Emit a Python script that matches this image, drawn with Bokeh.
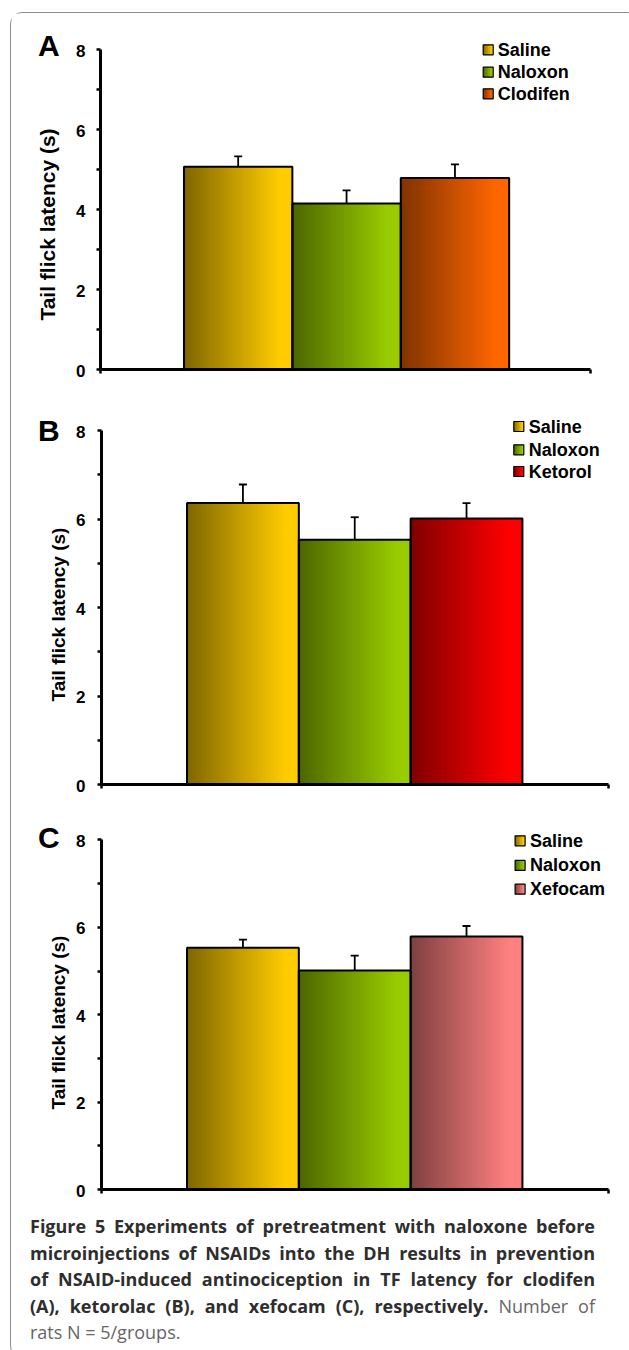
import numpy as np
from bokeh.plotting import figure
from bokeh.models import Range1d, FixedTicker, Div, ColumnDataSource, CustomJSTickFormatter
from bokeh.layouts import column
from bokeh.core.properties import value
from bokeh.embed import file_html
from bokeh.resources import INLINE

# ---------------- data ----------------
groups_a = ["Saline", "Naloxon", "Clodifen"]
latency_a = [5.07, 4.15, 4.79]
sem_a = [0.26, 0.33, 0.34]

groups_b = ["Saline", "Naloxon", "Ketorol"]
latency_b = [6.36, 5.53, 6.01]
sem_b = [0.42, 0.51, 0.35]

groups_c = ["Saline", "Naloxon", "Xefocam"]
latency_c = [5.53, 5.01, 5.79]
sem_c = [0.19, 0.34, 0.24]

y_ticks = [0, 2, 4, 6, 8]
y_minor_ticks = [1, 3, 5, 7]
panel_letters = ["A", "B", "C"]
y_title = "Tail flick latency (s)"

caption_bold = [
    "Figure 5 Experiments of pretreatment with naloxone before",
    "microinjections of NSAIDs into the DH results in prevention",
    "of NSAID-induced antinociception in TF latency for clodifen",
    "(A), ketorolac (B), and xefocam (C), respectively.",
]
caption_plain = ["Number of", "rats N = 5/groups."]

# ---------------- style ----------------
GRAD = {
    "Saline": ((127, 102, 0), (255, 204, 0)),
    "Naloxon": ((76, 102, 0), (153, 204, 0)),
    "Clodifen": ((127, 51, 0), (255, 102, 0)),
    "Ketorol": ((127, 0, 0), (255, 0, 0)),
    "Xefocam": ((127, 64, 64), (255, 128, 128)),
}
FONT = "Liberation Sans"
FIG_W = 617
OX = 11      # page x of layout content
ML = 12      # left border of every figure
MB = 6       # bottom border of every figure


def grad_color(name, t):
    a, b = GRAD[name]
    t = min(t / 0.88, 1.0)
    r, g, bl = [int(round(a[k] + (b[k] - a[k]) * t)) for k in range(3)]
    return "#%02x%02x%02x" % (r, g, bl)


GEOM = [
    dict(top=13, ax=100, fh=356, bottom=26, ppx=108.4, ppy=40.0, x0=-1.27, axis_len=490,
         sq=482.7, tx=497.3, rows=[49.3, 71.7, 93.3], lc=44.5, tcx=46.5, tcy=224, tfs=21),
    dict(top=395, ax=101, fh=389, bottom=21, ppx=111.8, ppy=44.25, x0=-1.265, axis_len=506.7,
         sq=513.3, tx=528.3, rows=[426, 449.3, 471], lc=430, tcx=57.5, tcy=614, tfs=19),
    dict(top=805, ax=101, fh=384, bottom=18, ppx=111.8, ppy=43.7, x0=-1.265, axis_len=506.7,
         sq=514.6, tx=529.5, rows=[840.3, 864.9, 888.7], lc=836.5, tcx=57.5, tcy=1022, tfs=19),
]


def make_panel(letter, groups, vals, errs, g):
    ppx, ppy = g["ppx"], g["ppy"]
    fl_page = OX + ML
    fw = FIG_W - ML
    x_lo = g["x0"] - (g["ax"] - fl_page) / ppx
    x_hi = x_lo + fw / ppx
    y_hi = g["fh"] / ppy
    y_lo = -(g["bottom"] - MB) / ppy
    y0_page = g["top"] + g["fh"]

    def X(px):
        return x_lo + (px - fl_page) / ppx

    def Y(py):
        return (y0_page - py) / ppy

    p = figure(width=FIG_W, height=g["fh"] + g["bottom"],
               x_range=Range1d(x_lo, x_hi), y_range=Range1d(y_lo, y_hi),
               output_backend="svg", toolbar_location=None, tools="",
               min_border_left=ML, min_border_right=0,
               min_border_top=0, min_border_bottom=MB)
    p.grid.visible = False
    p.outline_line_color = None
    p.background_fill_color = "white"
    p.border_fill_color = "white"

    # bars with horizontal gradient (vertical slices)
    n = 40
    xs = np.arange(len(groups))
    for i, name in enumerate(groups):
        lefts = [i - 0.5 + k / n for k in range(n)]
        rights = [min(i - 0.5 + (k + 1.6) / n, i + 0.5) for k in range(n)]
        cols = [grad_color(name, (k + 0.5) / n) for k in range(n)]
        src = ColumnDataSource(dict(left=lefts, right=rights,
                                    top=[vals[i]] * n, bottom=[0] * n, c=cols))
        p.quad(left="left", right="right", top="top", bottom="bottom",
               fill_color="c", line_color=None, source=src)
    p.vbar(x=xs, top=vals, width=1.0, fill_color=None, line_color="black", line_width=2)

    # error bars (upper only)
    tops = [v + e for v, e in zip(vals, errs)]
    cw = 4.0 / ppx
    p.segment(x0=xs, y0=vals, x1=xs, y1=tops, line_color="black", line_width=1.8)
    p.segment(x0=xs - cw, y0=tops, x1=xs + cw, y1=tops, line_color="black", line_width=1.8)

    # legend
    sw = 10.0
    m = 6
    for j, name in enumerate(groups):
        cy = g["rows"][j]
        sl = [X(g["sq"] + sw * k / m) for k in range(m)]
        sr = [X(g["sq"] + sw * (k + 1.5) / m) if k < m - 1 else X(g["sq"] + sw) for k in range(m)]
        sc = [grad_color(name, (k + 0.5) / m) for k in range(m)]
        p.quad(left=sl, right=sr, top=[Y(cy - sw / 2)] * m, bottom=[Y(cy + sw / 2)] * m,
               fill_color=sc, line_color=None)
        p.quad(left=[X(g["sq"])], right=[X(g["sq"] + sw)], top=[Y(cy - sw / 2)],
               bottom=[Y(cy + sw / 2)], fill_color=None, line_color="black", line_width=1.2)
    p.text(x=[X(g["tx"])] * len(groups), y=[Y(cy) for cy in g["rows"]], text=groups,
           text_font=value(FONT), text_font_style="bold", text_font_size="18px",
           text_baseline="middle", text_align="left", text_color="black")

    # axes (drawn at fixed data locations)
    ax_end = g["x0"] + g["axis_len"] / ppx
    xa = p.xaxis[0]
    xa.fixed_location = 0
    xa.bounds = (g["x0"], ax_end)
    xa.ticker = FixedTicker(ticks=[g["x0"], ax_end])
    xa.formatter = CustomJSTickFormatter(code="return ''")
    xa.major_label_standoff = 0
    xa.axis_line_width = 3
    xa.axis_line_color = "black"
    xa.major_tick_in = 0
    xa.major_tick_out = 4
    xa.major_tick_line_width = 2.5
    xa.minor_tick_line_color = None

    ya = p.yaxis[0]
    ya.fixed_location = g["x0"]
    ya.bounds = (0, 8)
    ya.ticker = FixedTicker(ticks=y_ticks, minor_ticks=y_minor_ticks)
    ya.formatter = CustomJSTickFormatter(code="return ''")
    ya.major_label_standoff = 0
    ya.axis_line_width = 3
    ya.axis_line_color = "black"
    ya.major_tick_in = 0
    ya.major_tick_out = 4
    ya.minor_tick_in = 0
    ya.minor_tick_out = 4
    ya.major_tick_line_width = 2.5
    ya.minor_tick_line_width = 2.5

    # y tick labels (at the tick values)
    p.text(x=[X(85)] * len(y_ticks), y=[t - 1.0 / ppy for t in y_ticks],
           text=[str(t) for t in y_ticks],
           text_font=value(FONT), text_font_style="bold", text_font_size="17px",
           text_baseline="middle", text_align="right", text_color="black")

    # panel letter
    p.text(x=[X(37.5)], y=[Y(g["lc"])], text=[letter], text_font=value(FONT),
           text_font_style="bold", text_font_size="30px",
           text_baseline="middle", text_align="left", text_color="black")
    # y axis title
    p.text(x=[X(g["tcx"])], y=[Y(g["tcy"])], text=[y_title], angle=np.pi / 2,
           text_font=value(FONT), text_font_style="bold",
           text_font_size="%dpx" % g["tfs"],
           text_align="center", text_baseline="middle", text_color="black")
    return p


pA = make_panel(panel_letters[0], groups_a, latency_a, sem_a, GEOM[0])
pB = make_panel(panel_letters[1], groups_b, latency_b, sem_b, GEOM[1])
pC = make_panel(panel_letters[2], groups_c, latency_c, sem_c, GEOM[2])

line_style = "text-align:justify;text-align-last:justify;white-space:nowrap;"
html = ('<div style="font-family:\'Open Sans\';font-size:18px;line-height:26.5px;'
        'color:#2e2e2e;padding:1px 0 0 14px;width:579px;">')
for k, t in enumerate(caption_bold):
    if k < 3:
        html += '<div style="%s"><b>%s</b></div>' % (line_style, t)
    else:
        html += ('<div style="%s"><b>%s</b> <span style="color:#666666;">%s</span></div>'
                 % (line_style, t, caption_plain[0]))
html += '<div style="color:#666666;">%s</div>' % caption_plain[1]
html += '</div>'

cap = Div(text=html, width=FIG_W, height=140)

root = column(pA, pB, pC, cap, spacing=0, margin=(12, 0, 0, 10),
              styles={"border": "1px solid #8f8f8f", "border-radius": "12px",
                      "background-color": "white"})

open("out.html", "w").write(file_html(root, INLINE))
